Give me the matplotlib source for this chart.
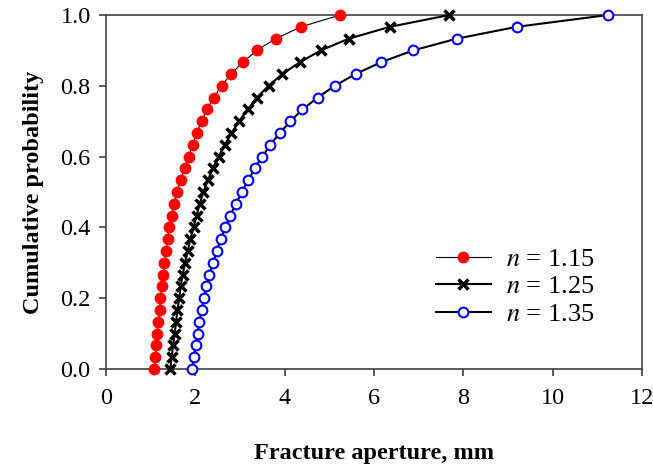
import matplotlib
matplotlib.use("Agg")
import matplotlib.pyplot as plt

plt.rcParams['font.family'] = ['Liberation Serif', 'DejaVu Serif']
plt.rcParams['mathtext.fontset'] = 'stix'

prob = [i / 30 for i in range(31)]

aperture_115 = [1.08, 1.10, 1.13, 1.15, 1.17, 1.20, 1.22, 1.25, 1.28, 1.31,
                1.35, 1.38, 1.42, 1.47, 1.52, 1.59, 1.67, 1.76, 1.85, 1.94,
                2.03, 2.14, 2.26, 2.41, 2.59, 2.80, 3.06, 3.38, 3.80, 4.37, 5.24]
aperture_125 = [1.44, 1.47, 1.50, 1.54, 1.57, 1.60, 1.64, 1.67, 1.72, 1.77,
                1.83, 1.89, 1.96, 2.03, 2.10, 2.18, 2.28, 2.39, 2.52, 2.66,
                2.81, 2.98, 3.17, 3.38, 3.64, 3.95, 4.34, 4.81, 5.44, 6.36, 7.69]
aperture_135 = [1.93, 1.97, 2.01, 2.05, 2.09, 2.14, 2.20, 2.25, 2.31, 2.40,
                2.48, 2.57, 2.67, 2.78, 2.91, 3.04, 3.19, 3.33, 3.50, 3.68,
                3.89, 4.13, 4.40, 4.74, 5.12, 5.59, 6.16, 6.88, 7.86, 9.20, 11.24]

labels = ['$n$ = 1.15', '$n$ = 1.25', '$n$ = 1.35']
x_ticks = [0, 2, 4, 6, 8, 10, 12]
y_ticks = [0.0, 0.2, 0.4, 0.6, 0.8, 1.0]

fig = plt.figure(figsize=(6.53, 4.69), dpi=100)
ax = fig.add_axes([0.1623, 0.2132, 0.8207, 0.7548])

ax.plot(aperture_115, prob, color='black', lw=0.8, marker='o', ms=7.5,
        mfc='#ff0000', mec='#ff0000', label=labels[0], clip_on=False, zorder=3)
ax.plot(aperture_125, prob, color='black', lw=1.5, marker='x', ms=7, mew=2.5,
        mec='black', label=labels[1], clip_on=False, zorder=3)
ax.plot(aperture_135, prob, color='black', lw=1.5, marker='o', ms=7, mew=1.5,
        mfc='white', mec='#0000ff', label=labels[2], clip_on=False, zorder=3)

ax.set_xlim(0, 12)
ax.set_ylim(0, 1.0)
ax.set_xticks(x_ticks)
ax.set_yticks(y_ticks)
ax.set_xticklabels([str(v) for v in x_ticks])
ax.set_yticklabels([f"{v:.1f}" for v in y_ticks])

for s in ax.spines.values():
    s.set_color('#404040')
    s.set_linewidth(1.2)
ax.tick_params(direction='out', length=5, width=1.2, color='#404040',
               labelsize=17.5, pad=6)
ax.tick_params(axis='x', pad=9)

ax.set_xlabel('Fracture aperture, mm', fontsize=17.5, fontweight='bold', labelpad=24)
ax.set_ylabel('Cumulative probability', fontsize=17.5, fontweight='bold', labelpad=12)

leg = ax.legend(loc='lower right', bbox_to_anchor=(0.955, 0.055), frameon=False,
                fontsize=19, handlelength=2.1, handletextpad=0.55,
                labelspacing=0.15)

fig.savefig('out.png', dpi=100)
